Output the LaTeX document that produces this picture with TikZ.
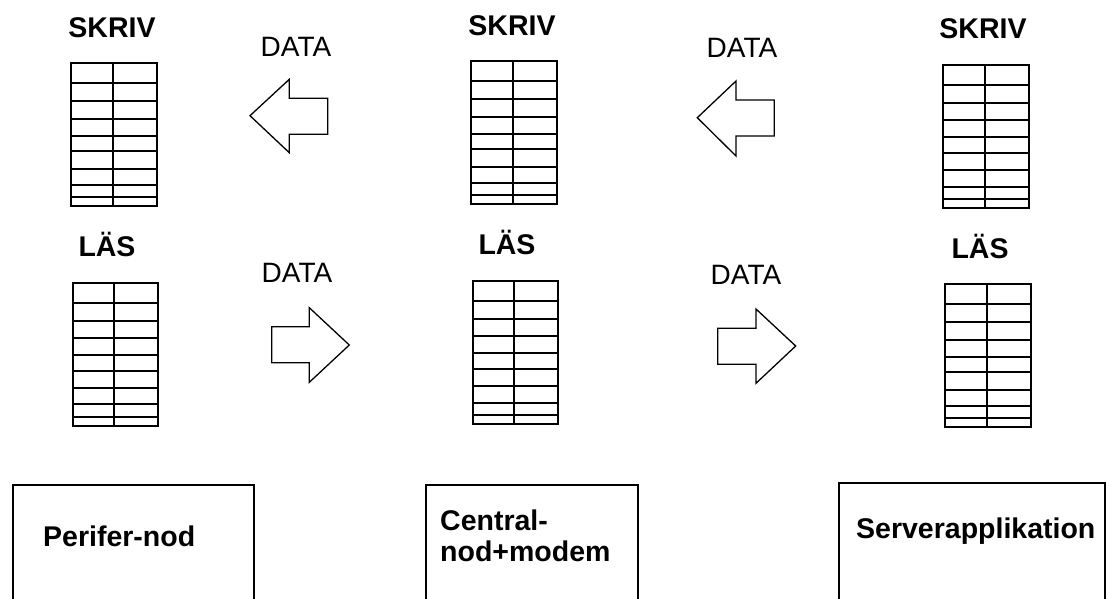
\documentclass[tikz,border=0pt]{standalone}
\usepackage{fontspec}
\setmainfont{Liberation Sans}
\usetikzlibrary{calc}
\tikzset{
  title/.style={font=\fontsize{28.5}{32}\selectfont\bfseries, anchor=base, inner sep=0pt},
  datalbl/.style={font=\fontsize{28}{32}\selectfont, anchor=base, inner sep=0pt},
  unitname/.style={font=\fontsize{28.5}{31}\selectfont\bfseries, anchor=base west, inner sep=0pt},
  buffer/.style={draw, line width=2pt, inner sep=0pt, anchor=north west,
                 minimum width=85.5pt, minimum height=143pt},
  gridline/.style={line width=2pt},
  fatarrow/.style={draw, line width=1.3pt, line join=miter},
  unitbox/.style={draw, line width=1.6pt, inner sep=0pt, anchor=north west, minimum height=140pt}
}
% rows and the centre column of a buffer table
\newcommand{\bufferrows}[1]{%
  \draw[gridline] ($(#1.north)+(-1,0)$) -- ($(#1.south)+(-1,0)$);
  \foreach \f in {0.144,0.2685,0.388,0.5056,0.615,0.734,0.846,0.930}
    \draw[gridline] ($(#1.north west)!\f!(#1.south west)$) -- ($(#1.north east)!\f!(#1.south east)$);
}
\begin{document}
\begin{tikzpicture}[x=1pt,y=-1pt]
\useasboundingbox (0,0) rectangle (1106,598);

% write and read buffers
\node[buffer] (skriv1) at (70,62.3) {};
\node[buffer] (las1)   at (71.7,281.7) {};
\node[buffer] (skriv2) at (470,60.3) {};
\node[buffer] (las2)   at (471.7,280) {};
\node[buffer] (skriv3) at (942.3,64) {};
\node[buffer] (las3)   at (944,283.3) {};
\bufferrows{skriv1}\bufferrows{las1}
\bufferrows{skriv2}\bufferrows{las2}
\bufferrows{skriv3}\bufferrows{las3}

% buffer titles
\node[title] (t1) at (112,37) {SKRIV};
\node[title] (t2) at (107,256) {LÄS};
\node[title] (t3) at (512,35) {SKRIV};
\node[title] (t4) at (507,254) {LÄS};
\node[title] (t5) at (983,38) {SKRIV};
\node[title] (t6) at (980,258) {LÄS};

% data flow
\node[datalbl] (d1) at (296,56) {DATA};
\node[datalbl] (d2) at (297,282) {DATA};
\node[datalbl] (d3) at (742,57) {DATA};
\node[datalbl] (d4) at (746,284) {DATA};

\draw[fatarrow] (250,115.7) -- (289.3,79.3) -- (289.3,98.3) -- (327.7,98.3)
  -- (327.7,134.3) -- (289.3,134.3) -- (289.3,152.7) -- cycle;
\draw[fatarrow] (697.3,117.7) -- (736,81) -- (736,100) -- (774.3,100)
  -- (774.3,136) -- (736,136) -- (736,156) -- cycle;
\draw[fatarrow] (271.7,326.7) -- (309.3,326.7) -- (309.3,307.7) -- (349.3,345)
  -- (309.3,382.3) -- (309.3,362.7) -- (271.7,362.7) -- cycle;
\draw[fatarrow] (717.7,328.3) -- (756,328.3) -- (756,309) -- (795.7,346)
  -- (756,383.3) -- (756,364.3) -- (717.7,364.3) -- cycle;

% units
\node[unitbox, minimum width=241pt] (perifer) at (12.3,484) {};
\node[unitbox, minimum width=212pt] (central) at (425,484) {};
\node[unitbox, minimum width=266pt] (server)  at (838,482) {};
\node[unitname] (perifertext) at (43,546) {Perifer-nod};
\node[unitname] (centraltext1) at (440,530) {Central-};
\node[unitname] (centraltext2) at (440,561) {nod+modem};
\node[unitname] (servertext) at (856,538) {Serverapplikation};
\end{tikzpicture}
\end{document}
